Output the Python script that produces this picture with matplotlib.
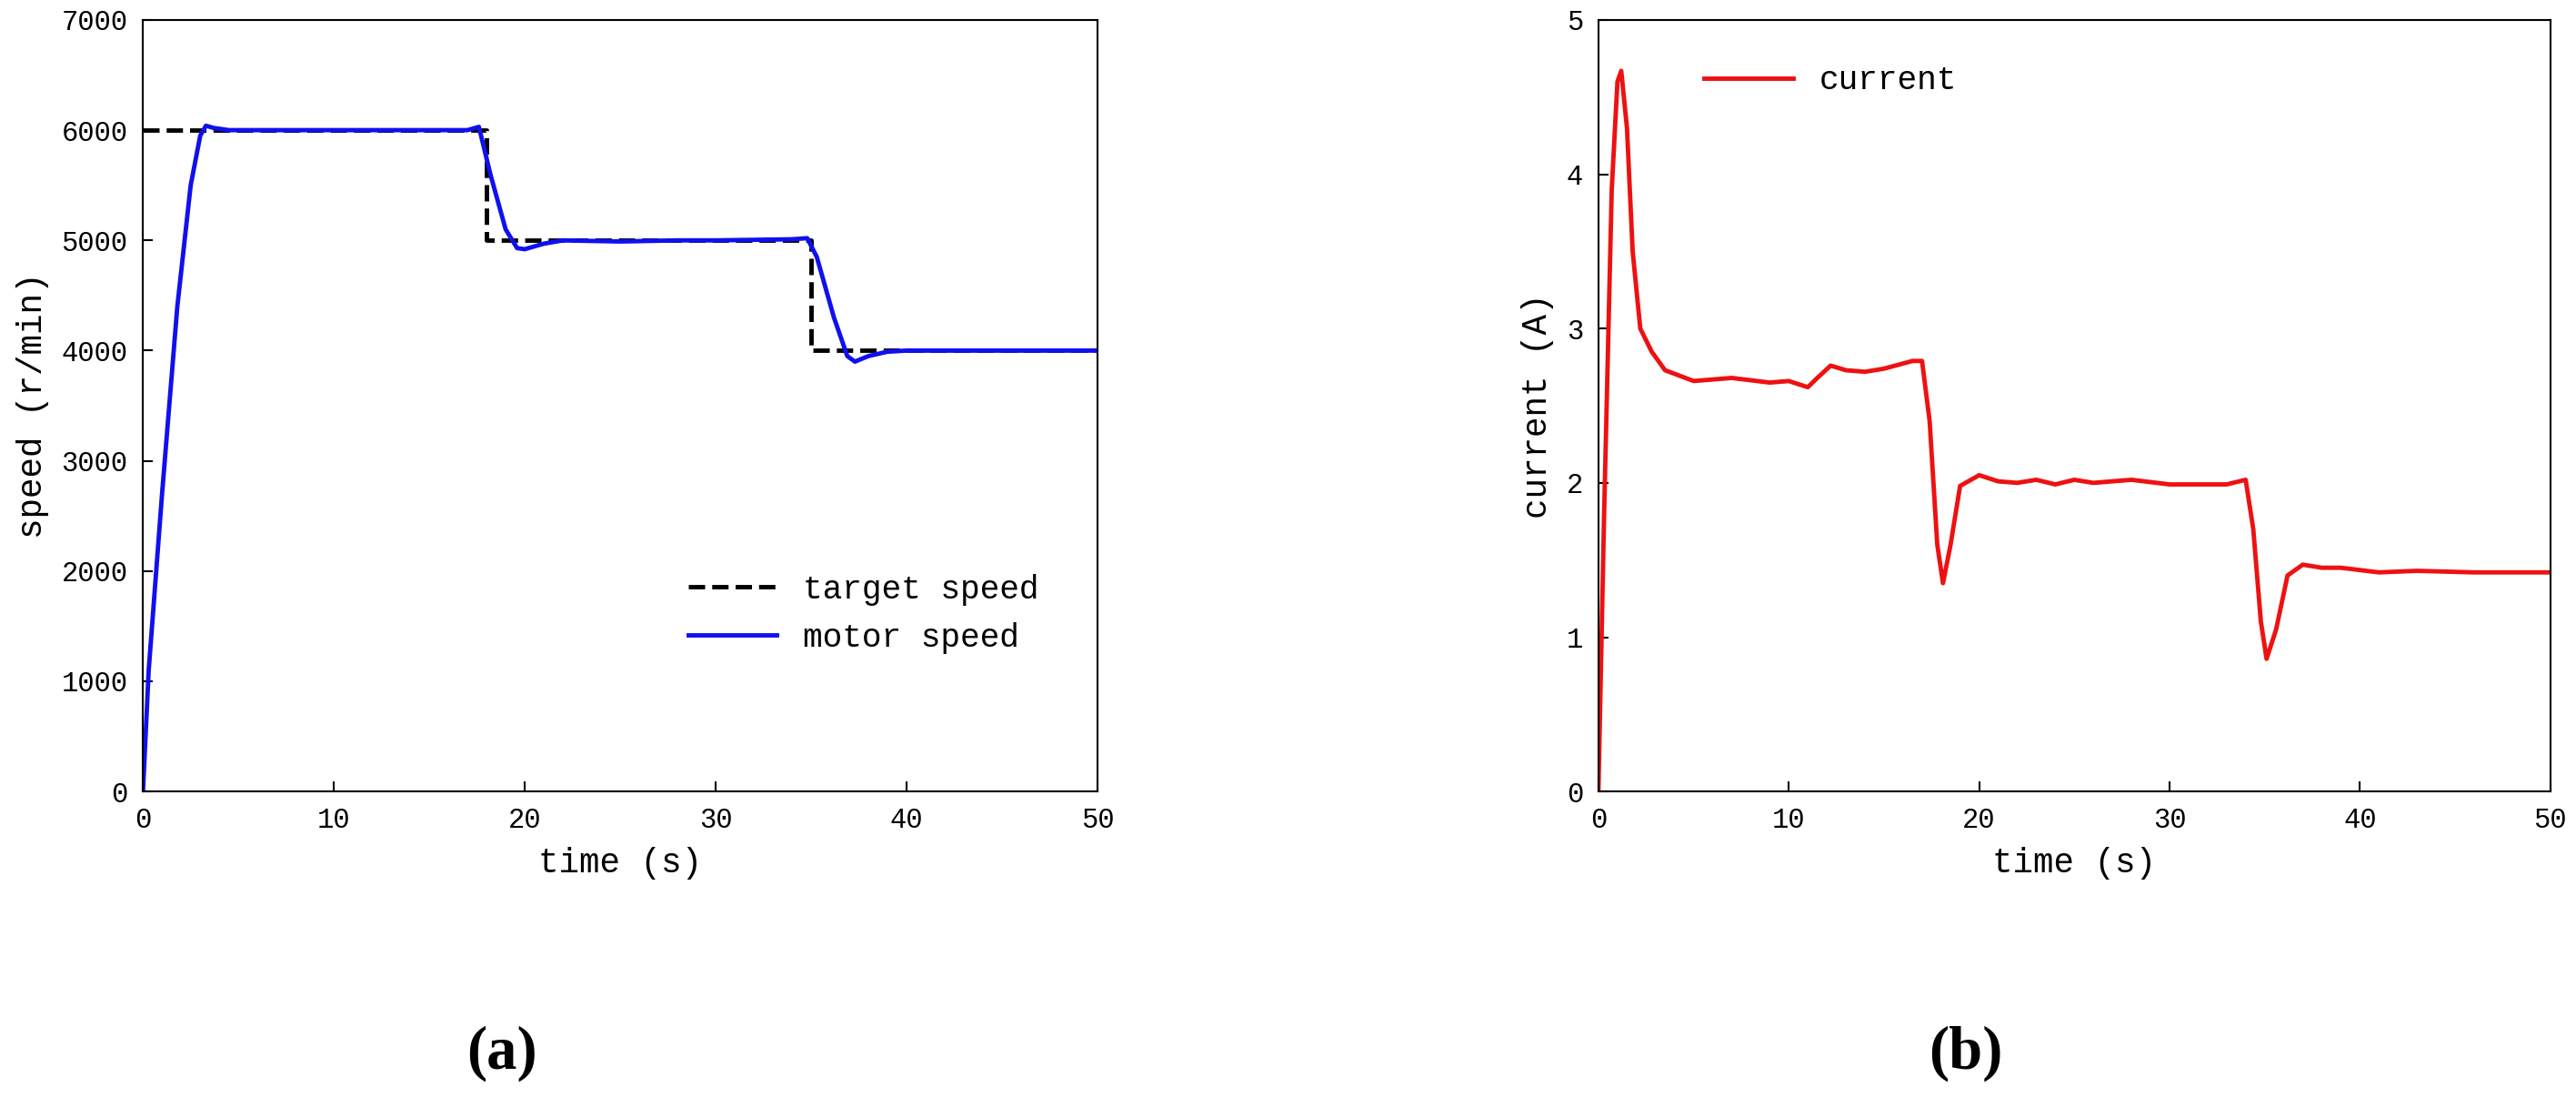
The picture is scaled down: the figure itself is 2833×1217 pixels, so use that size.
import matplotlib
matplotlib.use("Agg")
import matplotlib.pyplot as plt

target_t = [0, 18, 18, 35, 35, 50]
target_v = [6000, 6000, 5000, 5000, 4000, 4000]
motor_t = [0, 0.3, 1, 1.8, 2.5, 3.0, 3.3, 3.7, 4.5, 6, 10, 15, 17, 17.6, 18.2, 19.0, 19.6, 20, 21, 22, 25, 28, 30, 34, 34.8, 35.3, 36.2, 36.9, 37.3, 38, 39, 40, 45, 50]
motor_v = [0, 1100, 2700, 4400, 5500, 5950, 6040, 6020, 6000, 6000, 6000, 6000, 6000, 6030, 5600, 5100, 4930, 4920, 4970, 5000, 4990, 5000, 5000, 5010, 5020, 4850, 4300, 3950, 3900, 3950, 3990, 4000, 4000, 4000]
cur_t = [0, 0.3, 0.7, 1.0, 1.2, 1.5, 1.8, 2.2, 2.8, 3.5, 5, 7, 9, 10, 11, 11.5, 12.2, 13, 14, 15, 16.5, 17, 17.4, 17.8, 18.1, 18.5, 19, 20, 21, 22, 23, 24, 25, 26, 28, 30, 33, 34, 34.4, 34.8, 35.1, 35.6, 36.2, 37, 38, 39, 41, 43, 46, 50]
cur_v = [0, 1.8, 3.9, 4.6, 4.67, 4.3, 3.5, 3.0, 2.85, 2.73, 2.66, 2.68, 2.65, 2.66, 2.62, 2.68, 2.76, 2.73, 2.72, 2.74, 2.79, 2.79, 2.4, 1.6, 1.35, 1.6, 1.98, 2.05, 2.01, 2.0, 2.02, 1.99, 2.02, 2.0, 2.02, 1.99, 1.99, 2.02, 1.7, 1.1, 0.86, 1.05, 1.4, 1.47, 1.45, 1.45, 1.42, 1.43, 1.42, 1.42]

mono = ["Liberation Mono", "DejaVu Sans Mono"]
plt.rcParams['font.family'] = mono
plt.rcParams['font.size'] = 22

fig = plt.figure(figsize=(28.33, 12.17), dpi=100)
ax1 = fig.add_axes([0.0555, 0.285, 0.3705, 0.697])
ax2 = fig.add_axes([0.6205, 0.285, 0.3695, 0.697])

ax1.plot(target_t, target_v, color='black', ls='--', lw=3.5, label='target speed')
ax1.plot(motor_t, motor_v, color='#1010ee', lw=3.5, label='motor speed')
ax1.set_xlim(0, 50); ax1.set_ylim(0, 7000)
ax1.set_xticks(range(0, 51, 10)); ax1.set_yticks(range(0, 7001, 1000))
ax1.set_xlabel('time (s)', fontsize=27, labelpad=10)
ax1.set_ylabel('speed (r/min)', fontsize=27, labelpad=10)
ax1.legend(loc='lower right', bbox_to_anchor=(0.97, 0.14), frameon=False, fontsize=26, handlelength=2.7)

ax2.plot(cur_t, cur_v, color='#ee1111', lw=3.5, label='current')
ax2.set_xlim(0, 50); ax2.set_ylim(0, 5)
ax2.set_xticks(range(0, 51, 10)); ax2.set_yticks(range(0, 6))
ax2.set_xlabel('time (s)', fontsize=27, labelpad=10)
ax2.set_ylabel('current (A)', fontsize=27, labelpad=10)
ax2.legend(loc='upper left', bbox_to_anchor=(0.08, 0.98), frameon=False, fontsize=26, handlelength=2.7)

for ax in (ax1, ax2):
    ax.tick_params(direction='in', length=8, width=1.5, labelsize=22, pad=12)
    for s in ax.spines.values():
        s.set_linewidth(1.5)

fig.text(0.195, 0.035, '(a)', fontsize=48, fontweight='bold', family=['Liberation Serif', 'DejaVu Serif'], ha='center')
fig.text(0.763, 0.035, '(b)', fontsize=48, fontweight='bold', family=['Liberation Serif', 'DejaVu Serif'], ha='center')

fig.savefig('out.png', dpi=100)
